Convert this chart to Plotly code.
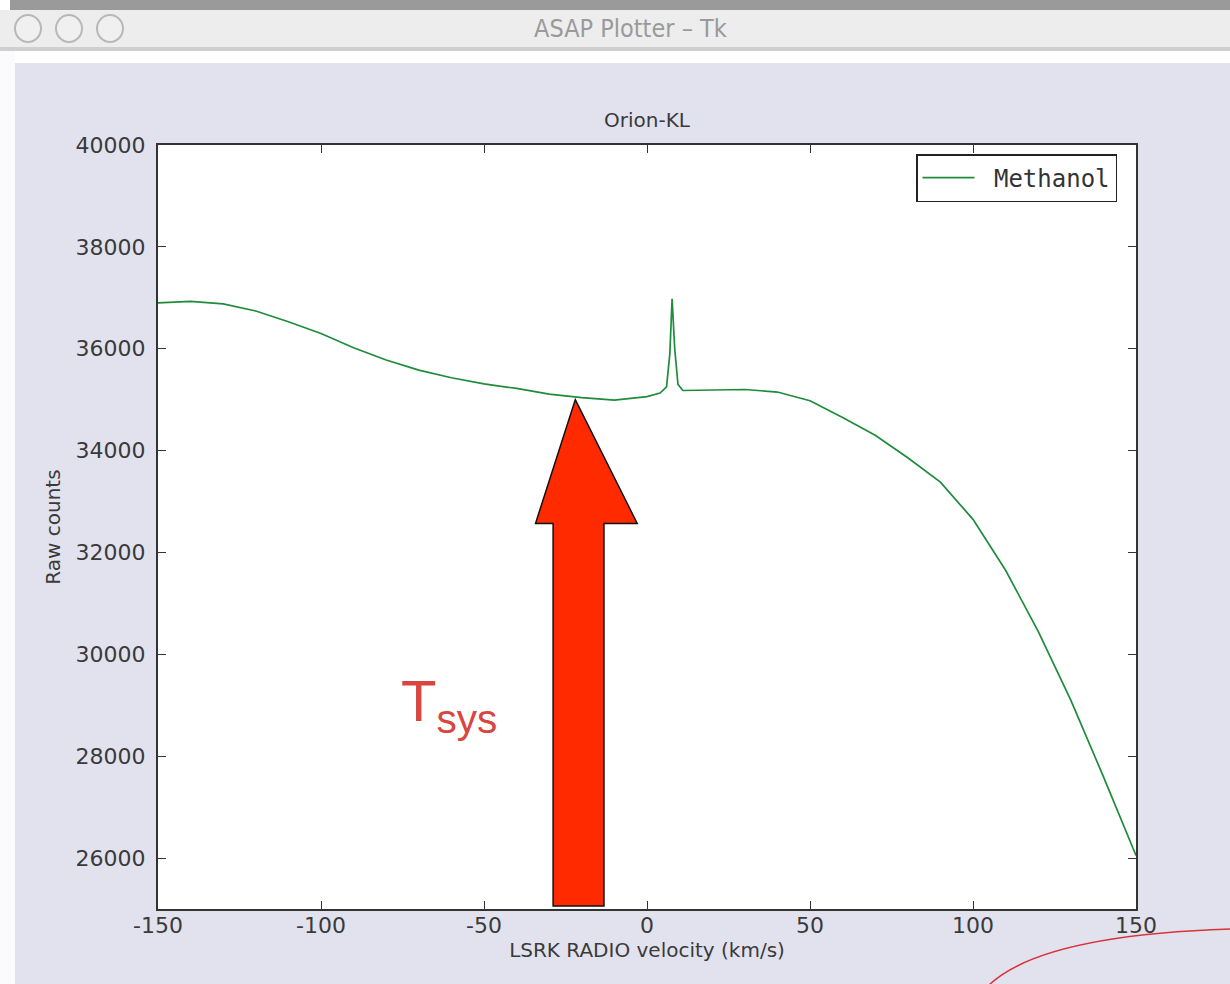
import plotly.graph_objects as go

# ---------------- data ----------------
velocity = [-150, -140, -130, -120, -110, -100, -90, -80, -70, -60, -50, -40, -30,
            -20, -10, 0, 4, 6, 7, 7.7, 8.5, 9.5, 11, 20, 30, 40, 50, 60, 70, 80,
            90, 100, 110, 120, 130, 140, 150]
raw_counts = [36900, 36930, 36880, 36740, 36530, 36300, 36020, 35780, 35580, 35430,
              35310, 35220, 35110, 35040, 34990, 35060, 35130, 35250, 35900, 36980,
              36000, 35300, 35180, 35190, 35200, 35150, 34980, 34650, 34300, 33860,
              33380, 32650, 31650, 30450, 29100, 27600, 26050]
series_name = "Methanol"
x_ticks = [-150, -100, -50, 0, 50, 100, 150]
x_tick_labels = ["-150", "-100", "-50", "0", "50", "100", "150"]
y_ticks = [26000, 28000, 30000, 32000, 34000, 36000, 38000, 40000]
y_tick_labels = ["26000", "28000", "30000", "32000", "34000", "36000", "38000", "40000"]

# Tsys arrow (data coordinates)
arrow_tip = (-22, 35000)
arrow_head_base = 32570
arrow_head_x = (-34.2, -3.0)
arrow_shaft_x = (-28.8, -13.2)
arrow_bottom = 25060

# ---------------- layout helpers ----------------
W, H = 1230, 984
L, R, T, B = 158, 1136, 145, 909


def px(x):
    return (x - L) / (R - L)


def py(y):
    return (B - y) / (B - T)


LAV = "#e2e2ee"
fig = go.Figure()
fig.add_trace(go.Scatter(x=velocity, y=raw_counts, mode="lines", name="&nbsp;" + series_name,
                         line=dict(color="#1e8c3a", width=1.7)))

shapes = []
# window chrome
shapes.append(dict(type="rect", xref="paper", yref="paper", x0=px(0), x1=px(W), y0=py(0), y1=py(63),
                   fillcolor="#ffffff", line=dict(width=0), layer="below"))
shapes.append(dict(type="rect", xref="paper", yref="paper", x0=px(10), x1=px(W), y0=py(0), y1=py(10),
                   fillcolor="#9a9a9a", line=dict(width=0), layer="below"))
shapes.append(dict(type="rect", xref="paper", yref="paper", x0=px(0), x1=px(W), y0=py(10), y1=py(47),
                   fillcolor="#ededed", line=dict(width=0), layer="below"))
shapes.append(dict(type="rect", xref="paper", yref="paper", x0=px(0), x1=px(W), y0=py(47), y1=py(51),
                   fillcolor="#cfcfcf", line=dict(width=0), layer="below"))
shapes.append(dict(type="rect", xref="paper", yref="paper", x0=px(0), x1=px(15), y0=py(51), y1=py(H),
                   fillcolor="#fbfbfd", line=dict(width=0), layer="below"))
for cx in [28, 69, 110]:
    shapes.append(dict(type="circle", xref="paper", yref="paper", x0=px(cx - 13), x1=px(cx + 13),
                       y0=py(15), y1=py(42), fillcolor="#f0f0f0",
                       line=dict(color="#b8b8b8", width=2), layer="below"))
# Tsys arrow
path = (f"M {arrow_tip[0]},{arrow_tip[1]} L {arrow_head_x[1]},{arrow_head_base} "
        f"L {arrow_shaft_x[1]},{arrow_head_base} L {arrow_shaft_x[1]},{arrow_bottom} "
        f"L {arrow_shaft_x[0]},{arrow_bottom} L {arrow_shaft_x[0]},{arrow_head_base} "
        f"L {arrow_head_x[0]},{arrow_head_base} Z")
shapes.append(dict(type="path", xref="x", yref="y", path=path, fillcolor="#ff2a00",
                   line=dict(color="#111111", width=1.5), layer="above"))
# red pen stroke bottom right
shapes.append(dict(type="path", xref="paper", yref="paper",
                   path=f"M {px(988)},{py(986)} Q {px(1040)},{py(935)} {px(1232)},{py(929)}",
                   line=dict(color="#d8323a", width=1.5), layer="above"))

fig.update_layout(
    width=W, height=H,
    margin=dict(l=L, r=W - R, t=T, b=H - B),
    paper_bgcolor=LAV, plot_bgcolor="#ffffff",
    font=dict(family="DejaVu Sans", size=22, color="#3a3a3a"),
    title=dict(text="Orion-KL", xref="paper", x=px(647), xanchor="center",
               yref="container", y=1 - 120 / H, yanchor="middle",
               font=dict(size=20, color="#3a3a3a")),
    showlegend=True,
    legend=dict(x=px(1117), y=py(154), xanchor="right", yanchor="top",
                bgcolor="#ffffff", bordercolor="#222222", borderwidth=1.5,
                itemwidth=52,
                font=dict(family="DejaVu Sans Mono", size=24, color="#333333"), tracegroupgap=0),
    shapes=shapes,
    annotations=[
        dict(text="ASAP Plotter – Tk", xref="paper", yref="paper", x=px(630), y=py(28),
             xanchor="center", yanchor="middle",
             showarrow=False, font=dict(family="DejaVu Sans Condensed", size=25, color="#9a9a9a")),
        dict(text="T<sub>sys</sub>", xref="x", yref="y", x=-76, y=29000, xanchor="left",
             yanchor="middle",
             showarrow=False, font=dict(family="Liberation Sans", size=58, color="#d8473f")),
    ],
)
fig.update_xaxes(range=[-150, 150], tickvals=x_ticks, ticktext=x_tick_labels,
                 ticks="inside", ticklen=8, tickwidth=1.2, ticklabelstandoff=-4,
                 tickcolor="#333333", showline=True, linecolor="#333333", linewidth=2, mirror="ticks",
                 showgrid=False, zeroline=False,
                 title=dict(text="LSRK RADIO velocity (km/s)", standoff=4, font=dict(size=20)))
fig.update_yaxes(range=[25000, 40000], tickvals=y_ticks, ticktext=y_tick_labels,
                 ticks="inside", ticklen=8, tickwidth=1.2, ticklabelstandoff=6,
                 tickcolor="#333333", showline=True, linecolor="#333333", linewidth=2, mirror="ticks",
                 showgrid=False, zeroline=False,
                 title=dict(text="Raw counts", standoff=10, font=dict(size=20)))

fig.write_html("out.html", config={"displayModeBar": False},
               post_script="document.body.style.margin='0';")
